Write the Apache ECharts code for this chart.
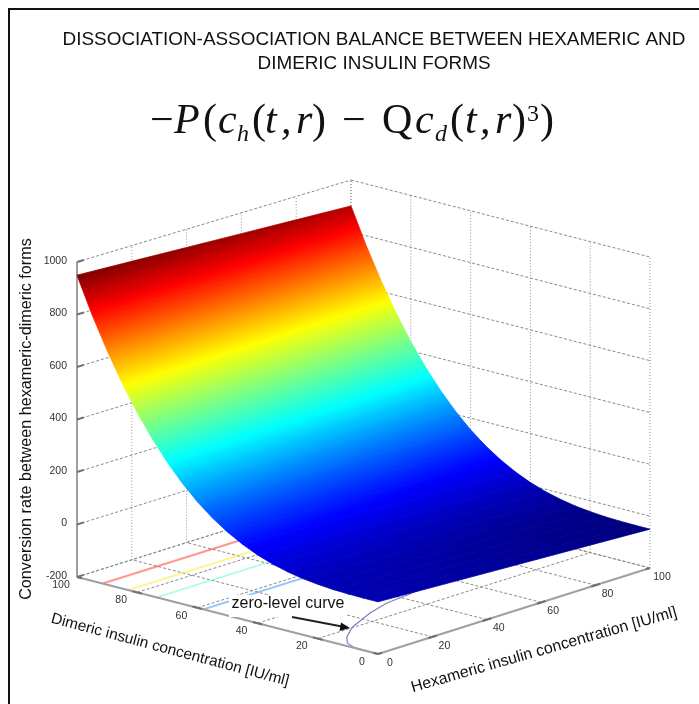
<!DOCTYPE html>
<html>
<head>
<meta charset="utf-8">
<style>html,body{margin:0;padding:0;background:#fff}#c{width:699px;height:704px;filter:blur(0.45px)}</style>
<script src="https://cdn.jsdelivr.net/npm/echarts@6/dist/echarts.min.js"></script>
</head>
<body>
<div id="c"></div>
<script>
// ---------- data ----------
const dimericTicks = [0, 20, 40, 60, 80, 100];
const hexamericTicks = [0, 20, 40, 60, 80, 100];
const rateTicks = [-200, 0, 200, 400, 600, 800, 1000];

const surfaceDimeric = [0,5,10,15,20,25,30,35,40,45,50,55,60,65,70,75,80,85,90,95,100];
const surfaceHexameric = [0,20,40,60,80,100];
// rows follow surfaceDimeric, columns follow surfaceHexameric
const surfaceRate = [
  [0,-10,-20,-30,-40,-50],
  [0,-10,-20,-30,-40,-50],
  [1,-9,-19,-29,-39,-49],
  [3,-7,-17,-27,-37,-47],
  [8,-2,-12,-22,-32,-42],
  [15,5,-5,-15,-25,-35],
  [26,16,6,-4,-14,-24],
  [41,31,21,11,1,-9],
  [61,51,41,31,21,11],
  [87,77,67,57,47,37],
  [119,109,99,89,79,69],
  [158,148,138,128,118,108],
  [205,195,185,175,165,155],
  [261,251,241,231,221,211],
  [326,316,306,296,286,276],
  [401,391,381,371,361,351],
  [486,476,466,456,446,436],
  [583,573,563,553,543,533],
  [693,683,673,663,653,643],
  [814,804,794,784,774,764],
  [950,940,930,920,910,900]
];

// contour lines projected on the floor (the parts visible in front of the surface)
const contourRate = [800, 600, 400, 200];
const contourDimeric = [91.5, 83, 73.5, 58];

// zero-level curve on the floor
const zeroHexameric = [0, 0.4, 2, 5.8, 13, 25, 34, 43, 60, 100];
const zeroDimeric = [0, 8.6, 12, 15.6, 20.3, 25.3, 28, 29, 32, 37];

const titleText = 'DISSOCIATION-ASSOCIATION BALANCE BETWEEN HEXAMERIC AND\nDIMERIC INSULIN FORMS';
const rateName = 'Conversion rate between hexameric-dimeric forms';
const dimericName = 'Dimeric insulin concentration [IU/ml]';
const hexamericName = 'Hexameric insulin concentration [IU/ml]';
const noteText = 'zero-level curve';

// ---------- view of the 3D box ----------
const floorFront = [378, 654], floorLeft = [77, 577], floorBack = [351, 491], floorRight = [650, 568];
const heightFront = 313, heightLeft = 315, heightBack = 311, heightRight = 311;

function project(dim, hex, rate) {
  const u = dim / 100, v = hex / 100;
  const w00 = (1-u)*(1-v), w10 = u*(1-v), w11 = u*v, w01 = (1-u)*v;
  const x = w00*floorFront[0] + w10*floorLeft[0] + w11*floorBack[0] + w01*floorRight[0];
  const y = w00*floorFront[1] + w10*floorLeft[1] + w11*floorBack[1] + w01*floorRight[1];
  const h = w00*heightFront + w10*heightLeft + w11*heightBack + w01*heightRight;
  return [x, y - (rate + 200) / 1200 * h];
}

const allRates = surfaceRate.flat();
const rateMin = Math.min(...allRates), rateMax = Math.max(...allRates);
function clamp(a) { return Math.max(0, Math.min(1, a)); }
function jet(rate) {
  const t = (rate - rateMin) / (rateMax - rateMin);
  const c = k => Math.round(255 * clamp(1.5 - Math.abs(4 * t - k)));
  return 'rgb(' + c(3) + ',' + c(2) + ',' + c(1) + ')';
}

// ---------- chart ----------
const chart = echarts.init(document.getElementById('c'), null, { renderer: 'canvas' });
const FONT = '"Liberation Sans", Arial, sans-serif';
const SERIF = '"Liberation Serif", "Times New Roman", serif';

function polyline(api, pts, style) {
  return { type: 'polyline', silent: true, shape: { points: pts.map(p => api.coord(p)) },
           style: Object.assign({ fill: null }, style) };
}

// build guide lines (walls, floor) from tick arrays
const GRID = { stroke: '#8a8a8a', lineWidth: 1, lineDash: [3, 2] };
const DOTS = { stroke: '#909090', lineWidth: 1, lineDash: [1, 2] };
const guides = [];
rateTicks.forEach(r => {
  guides.push({ pts: [project(100,0,r), project(100,100,r)], s: GRID });
  guides.push({ pts: [project(100,100,r), project(0,100,r)], s: GRID });
});
hexamericTicks.forEach(h => {
  guides.push({ pts: [project(100,h,-200), project(100,h,1000)], s: DOTS });
  guides.push({ pts: [project(0,h,-200), project(100,h,-200)], s: GRID });
});
dimericTicks.forEach(d => {
  guides.push({ pts: [project(d,100,-200), project(d,100,1000)], s: DOTS });
  guides.push({ pts: [project(d,0,-200), project(d,100,-200)], s: GRID });
});

const axisLines = [
  [project(100,0,-200), project(100,0,1000)],
  [project(100,0,-200), project(0,0,-200)],
  [project(0,0,-200), project(0,100,-200)]
];
const tickMarks = [];
rateTicks.forEach(r => tickMarks.push([project(100,0,r), project(100,2.5,r)]));
dimericTicks.forEach(d => tickMarks.push([project(Math.min(d+1.6,100),0,-200), project(Math.max(d-1.6,0),0,-200)]));
hexamericTicks.forEach(h => tickMarks.push([project(0,Math.max(h-1.6,0),-200), project(0,Math.min(h+1.6,100),-200)]));

// one strip of the surface per step of dimeric concentration
const strips = [];
for (let i = 0; i < surfaceDimeric.length - 1; i++) strips.push([i]);

function renderStrip(params, api) {
  const i = api.value(0), last = surfaceHexameric.length - 1;
  const corner = (a, b) => {
    const p = api.coord(project(surfaceDimeric[a], surfaceHexameric[b], surfaceRate[a][b]));
    return { x: p[0], y: p[1], r: surfaceRate[a][b] };
  };
  const A = corner(i, 0), B = corner(i + 1, 0), C = corner(i + 1, last), D = corner(i, last);
  // plane through A,B,D gives the direction of rising rate on screen
  const ux = B.x - A.x, uy = B.y - A.y, vx = D.x - A.x, vy = D.y - A.y;
  const du = B.r - A.r, dv = D.r - A.r, det = ux * vy - uy * vx;
  const gx = (du * vy - dv * uy) / det, gy = (dv * ux - du * vx) / det;
  const lo = Math.min(A.r, B.r, C.r, D.r), hi = Math.max(A.r, B.r, C.r, D.r);
  const g2 = gx * gx + gy * gy || 1e-9;
  const x0 = A.x + gx * (lo - A.r) / g2, y0 = A.y + gy * (lo - A.r) / g2;
  const x1 = A.x + gx * (hi - A.r) / g2, y1 = A.y + gy * (hi - A.r) / g2;
  const stops = [];
  for (let k = 0; k <= 12; k++) stops.push({ offset: k / 12, color: jet(lo + (hi - lo) * k / 12) });
  const fill = new echarts.graphic.LinearGradient(x0, y0, x1, y1, stops, true);
  const pts = [];
  for (let j = 0; j <= last; j++) { const p = corner(i, j); pts.push([p.x, p.y]); }
  for (let j = last; j >= 0; j--) { const p = corner(i + 1, j); pts.push([p.x, p.y]); }
  return { type: 'polygon', silent: true, shape: { points: pts },
    style: { fill: fill, stroke: fill, lineWidth: 0.8 } };
}

function tickText(api, p, dx, dy, text) {
  const c = api.coord(p);
  return { type: 'text', silent: true, x: c[0] + dx, y: c[1] + dy,
    style: { text: text, font: '10.5px ' + FONT, fill: '#333', align: 'center', verticalAlign: 'middle' } };
}

const option = {
  animation: false,
  backgroundColor: '#fff',
  title: {
    text: titleText, left: 369, top: 23, textAlign: 'center',
    textStyle: { fontFamily: FONT, fontWeight: 'normal', fontSize: 18.9, color: '#111', lineHeight: 24 }
  },
  grid: { left: 0, top: 0, width: 699, height: 704, containLabel: false },
  xAxis: { type: 'value', min: 0, max: 699, show: false },
  yAxis: { type: 'value', min: 0, max: 704, inverse: true, show: false },
  series: [
    { // wall and floor grid
      type: 'custom', silent: true, clip: false, z: 1,
      data: guides.map((g, i) => [i]),
      renderItem: (params, api) => polyline(api, guides[api.value(0)].pts, guides[api.value(0)].s)
    },
    { // contours on the floor
      type: 'custom', silent: true, clip: false, z: 2,
      data: contourDimeric.map((d, i) => [d, contourRate[i]]),
      renderItem: (params, api) => polyline(api,
        [project(api.value(0), 0, -200), project(api.value(0), 100, -200)],
        { stroke: jet(api.value(1)), lineWidth: 2, opacity: 0.45 })
    },
    { // zero-level curve
      type: 'custom', silent: true, clip: false, z: 2,
      data: [[0]],
      renderItem: (params, api) => polyline(api,
        zeroDimeric.map((d, i) => project(d, zeroHexameric[i], -200)),
        { stroke: '#7f7fc8', lineWidth: 1.2, smooth: 0.3 })
    },
    { // box axes
      type: 'custom', silent: true, clip: false, z: 3,
      data: axisLines.map((a, i) => [i]),
      renderItem: (params, api) => polyline(api, axisLines[api.value(0)], { stroke: '#a0a0a0', lineWidth: 2 })
    },
    { // tick marks
      type: 'custom', silent: true, clip: false, z: 3,
      data: tickMarks.map((a, i) => [i]),
      renderItem: (params, api) => polyline(api, tickMarks[api.value(0)], { stroke: '#707070', lineWidth: 2 })
    },
    { // surface
      type: 'custom', silent: true, clip: false, z: 4,
      data: strips,
      renderItem: renderStrip
    },
    { // rate tick labels
      type: 'custom', silent: true, clip: false, z: 5,
      data: rateTicks.map(r => [r]),
      renderItem: (params, api) => {
        const r = api.value(0), c = api.coord(project(100, 0, r));
        return { type: 'text', silent: true, x: c[0] - 10, y: c[1] - 1,
          style: { text: String(r), font: '10.5px ' + FONT, fill: '#333', align: 'right', verticalAlign: 'middle' } };
      }
    },
    { // dimeric tick labels
      type: 'custom', silent: true, clip: false, z: 5,
      data: dimericTicks.map(d => [d]),
      renderItem: (params, api) => tickText(api, project(api.value(0), 0, -200), -16, 8, String(api.value(0)))
    },
    { // hexameric tick labels
      type: 'custom', silent: true, clip: false, z: 5,
      data: hexamericTicks.map(h => [h]),
      renderItem: (params, api) => tickText(api, project(0, api.value(0), -200), 12, 9, String(api.value(0)))
    }
  ],
  graphic: { elements: [
    { type: 'polyline', silent: true, z: 20, shape: { points: [[9,704],[9,9],[699,9]] }, style: { fill: null, stroke: '#111', lineWidth: 2 } },
    // axis names
    { type: 'text', silent: true, z: 20, x: 27, y: 419, rotation: Math.PI / 2,
      style: { text: rateName, font: '16.2px ' + FONT, fill: '#111', align: 'center', verticalAlign: 'middle' } },
    { type: 'text', silent: true, z: 20, x: 170, y: 650, rotation: -14.9 * Math.PI / 180,
      style: { text: dimericName, font: '15.4px ' + FONT, fill: '#111', align: 'center', verticalAlign: 'middle' } },
    { type: 'text', silent: true, z: 20, x: 544, y: 650, rotation: 16 * Math.PI / 180,
      style: { text: hexamericName, font: '15.9px ' + FONT, fill: '#111', align: 'center', verticalAlign: 'middle' } },
    // note and arrow
    { type: 'rect', silent: true, z: 21, shape: { x: 229, y: 595, width: 118, height: 22 }, style: { fill: '#fff' } },
    { type: 'text', silent: true, z: 22, x: 288, y: 604,
      style: { text: noteText, font: '16px ' + FONT, fill: '#111', align: 'center', verticalAlign: 'middle' } },
    { type: 'line', silent: true, z: 22, shape: { x1: 292, y1: 617, x2: 342, y2: 626.5 }, style: { stroke: '#222', lineWidth: 2 } },
    { type: 'polygon', silent: true, z: 22, shape: { points: [[350,628],[341,622.5],[339.5,631]] }, style: { fill: '#111' } },
    // formula
    ...[
      ['\u2212', 150, 135, 42, false], ['P', 174, 135, 42, true], ['(', 203, 135, 42, false],
      ['c', 218, 135, 42, true], ['h', 237, 142, 24, true], ['(', 252, 135, 42, false],
      ['t', 265, 135, 42, true], [',', 281, 135, 42, true], ['r', 296, 135, 42, true], [')', 312, 135, 42, false],
      ['\u2212', 342, 135, 42, false], ['Q', 382, 135, 42, false], ['c', 415, 135, 42, true],
      ['d', 435, 142, 24, true], ['(', 450, 135, 42, false], ['t', 465, 135, 42, true],
      [',', 480, 135, 42, true], ['r', 495, 135, 42, true], [')', 512, 135, 42, false],
      ['3', 527, 122, 24, false], [')', 540, 135, 42, false]
    ].map(s => ({ type: 'text', silent: true, z: 20, x: s[1], y: s[2] - 0.3 * s[3],
      style: { text: s[0], font: (s[4] ? 'italic ' : '') + s[3] + 'px ' + SERIF, fill: '#111', align: 'left', verticalAlign: 'middle' } }))
  ] }
};
chart.setOption(option);
</script>
</body>
</html>
